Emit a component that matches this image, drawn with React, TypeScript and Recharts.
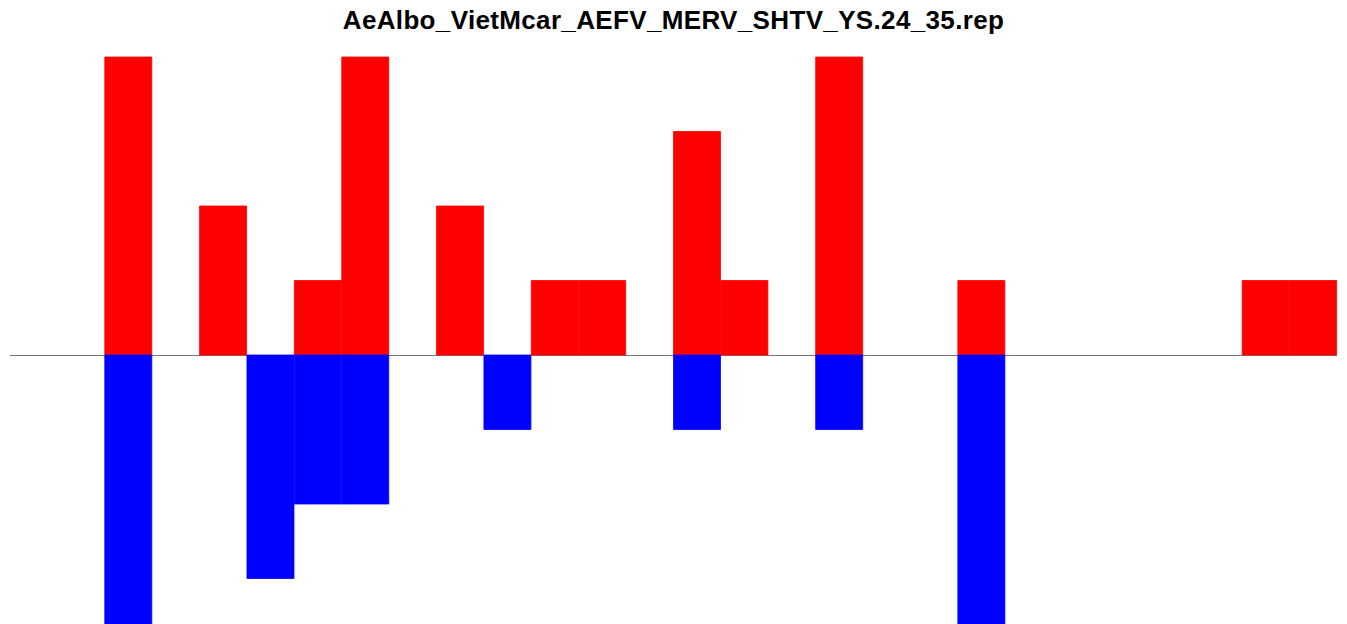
import React from 'react';
import { BarChart, Bar, XAxis, YAxis, CartesianGrid } from 'recharts';

// 28 positions along the sequence window
const positions = Array.from({ length: 28 }, (_, i) => String(i + 1));

const upValues = [0, 0, 4, 0, 2, 0, 1, 4, 0, 2, 0, 1, 1, 0, 3, 1, 0, 4, 0, 0, 1, 0, 0, 0, 0, 0, 1, 1];
const downValues = [0, 0, -4, 0, 0, -3, -2, -2, 0, 0, -1, 0, 0, 0, -1, 0, 0, -1, 0, 0, -4, 0, 0, 0, 0, 0, 0, 0];

const TITLE = 'AeAlbo_VietMcar_AEFV_MERV_SHTV_YS.24_35.rep';

const data = positions.map((pos, i) => ({
    pos,
    up: upValues[i],
    down: downValues[i],
}));

const App = () => {
    return (
        <div style={{ position: 'relative', width: 1347, height: 624, overflow: 'hidden' }}>
            <style>{'body{margin:0;overflow:hidden}'}</style>
            <div
                style={{
                    position: 'absolute',
                    top: 7,
                    left: 0,
                    width: 1347,
                    textAlign: 'center',
                    fontFamily: '"Liberation Sans", Arial, sans-serif',
                    fontWeight: 'bold',
                    fontSize: 26,
                    lineHeight: '26px',
                    letterSpacing: '0.35px',
                    color: '#000',
                }}
            >
                {TITLE}
            </div>
            <BarChart
                width={1347}
                height={660}
                data={data}
                margin={{ top: 57, right: 10, bottom: 7, left: 10 }}
                barCategoryGap={0}
                barGap={0}
                stackOffset="sign"
            >
                <CartesianGrid
                    vertical={false}
                    horizontal
                    horizontalValues={[0]}
                    stroke="#777777"
                    shapeRendering="crispEdges"
                />
                <XAxis dataKey="pos" hide />
                <YAxis domain={[-4, 4]} hide />
                <Bar dataKey="up" stackId="a" fill="#ff0000" stroke="#ff0000" strokeWidth={0.8} isAnimationActive={false} />
                <Bar dataKey="down" stackId="a" fill="#0000ff" stroke="#0000ff" strokeWidth={0.8} isAnimationActive={false} />
            </BarChart>
        </div>
    );
};

export default App;
